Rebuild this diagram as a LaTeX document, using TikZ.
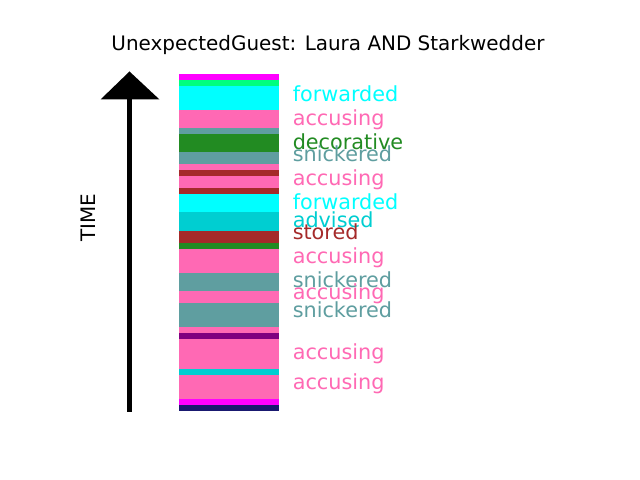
\documentclass[tikz,border=0pt]{standalone}
\usepackage{fontspec}
\setmainfont{DejaVu Sans}
\definecolor{cMagenta}{HTML}{FF00FF}
\definecolor{cSpring}{HTML}{00FF7F}
\definecolor{cCyan}{HTML}{00FFFF}
\definecolor{cPink}{HTML}{FF69B4}
\definecolor{cCadet}{HTML}{5F9EA0}
\definecolor{cForest}{HTML}{228B22}
\definecolor{cBrown}{HTML}{A52A2A}
\definecolor{cTurq}{HTML}{00CED1}
\definecolor{cPurple}{HTML}{800080}
\definecolor{cMidnight}{HTML}{191970}
\tikzset{
  lbl/.style={anchor=base west, inner sep=0pt, font=\fontsize{15}{18}\selectfont},
  ttl/.style={inner sep=0pt, font=\fontsize{14.4}{17}\selectfont},
}
\newcommand{\stripe}[3]{%
  \fill[#3] (179,{74+6.0214*#1}) rectangle (279,{74+6.0214*#2});}
\begin{document}
\begin{tikzpicture}[x=0.01in,y=-0.01in]
\useasboundingbox (0,0) rectangle (640,480);
\fill[white] (0,0) rectangle (640,480);
% title
\node[ttl, anchor=base] (title) at (328,51) {UnexpectedGuest: Laura AND Starkwedder};
% stripes
\stripe{0}{1}{cMagenta}
\stripe{1}{2}{cSpring}
\stripe{2}{6}{cCyan}
\stripe{6}{9}{cPink}
\stripe{9}{10}{cCadet}
\stripe{10}{13}{cForest}
\stripe{13}{15}{cCadet}
\stripe{15}{16}{cPink}
\stripe{16}{17}{cBrown}
\stripe{17}{19}{cPink}
\stripe{19}{20}{cBrown}
\stripe{20}{23}{cCyan}
\stripe{23}{26}{cTurq}
\stripe{26}{28}{cBrown}
\stripe{28}{29}{cForest}
\stripe{29}{33}{cPink}
\stripe{33}{36}{cCadet}
\stripe{36}{38}{cPink}
\stripe{38}{42}{cCadet}
\stripe{42}{43}{cPink}
\stripe{43}{44}{cPurple}
\stripe{44}{49}{cPink}
\stripe{49}{50}{cTurq}
\stripe{50}{54}{cPink}
\stripe{54}{55}{cMagenta}
\stripe{55}{56}{cMidnight}
% labels
\node[lbl, text=cCyan] (l1) at (292.5,102) {forwarded};
\node[lbl, text=cPink] (l2) at (292.5,126) {accusing};
\node[lbl, text=cForest] (l3) at (292.5,150) {decorative};
\node[lbl, text=cCadet] (l4) at (292.5,162) {snickered};
\node[lbl, text=cPink] (l5) at (292.5,186) {accusing};
\node[lbl, text=cCyan] (l6) at (292.5,210) {forwarded};
\node[lbl, text=cTurq] (l7) at (292.5,228) {advised};
\node[lbl, text=cBrown] (l8) at (292.5,240) {stored};
\node[lbl, text=cPink] (l9) at (292.5,264) {accusing};
\node[lbl, text=cCadet] (l10) at (292.5,288) {snickered};
\node[lbl, text=cPink] (l11) at (292.5,300) {accusing};
\node[lbl, text=cCadet] (l12) at (292.5,318) {snickered};
\node[lbl, text=cPink] (l13) at (292.5,360) {accusing};
\node[lbl, text=cPink] (l14) at (292.5,390) {accusing};
% time arrow
\fill[black] (127,412) rectangle (132,99);
\fill[black] (100.5,99.5) -- (129.5,71.5) -- (159.5,99.5) -- cycle;
\node[ttl, rotate=90] (time) at (88,218) {TIME};
\end{tikzpicture}
\end{document}
